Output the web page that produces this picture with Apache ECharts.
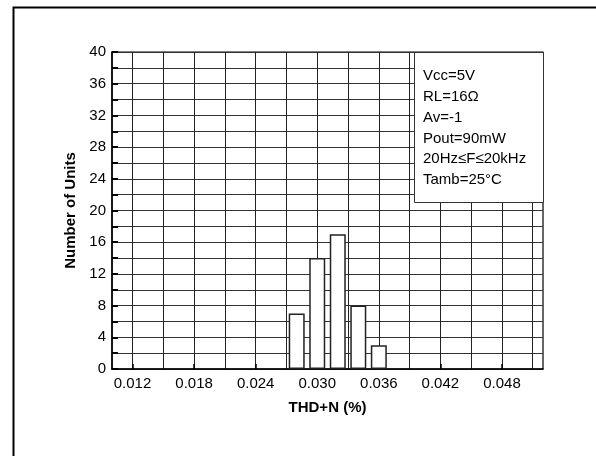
<!DOCTYPE html>
<html>
<head>
  <meta charset="UTF-8">
  <script src="https://cdn.jsdelivr.net/npm/echarts@6/dist/echarts.min.js"></script>
  <style>
    html, body { margin: 0; padding: 0; background: #fff; }
    #main { width: 596px; height: 456px; }
  </style>
</head>
<body>
  <div id="main"></div>
  <script>
    // histogram bins (THD+N %) and counts
    var binCenters = [0.028, 0.030, 0.032, 0.034, 0.036];
    var unitCounts = [7, 14, 17, 8, 3];
    var xTickLabels = [0.012, 0.018, 0.024, 0.030, 0.036, 0.042, 0.048];
    var xGridValues = [0.012, 0.015, 0.018, 0.021, 0.024, 0.027, 0.030, 0.033, 0.036, 0.039, 0.042, 0.045, 0.048, 0.051];
    var yTickLabels = [0, 4, 8, 12, 16, 20, 24, 28, 32, 36, 40];
    var noteLines = ['Vcc=5V', 'RL=16\u03A9', 'Av=-1', 'Pout=90mW', '20Hz\u2264F\u226420kHz', 'Tamb=25\u00B0C'];

    var font = 'Arial, "Liberation Sans", sans-serif';
    var chart = echarts.init(document.getElementById('main'));

    var barData = binCenters.map(function (x, i) { return [x, unitCounts[i]]; });

    chart.setOption({
      animation: false,
      backgroundColor: '#fff',
      grid: {
        left: 112, right: 53, top: 52, bottom: 87,
        show: true, borderColor: '#000', borderWidth: 1.2
      },
      xAxis: [{
        type: 'value', min: 0.010, max: 0.052,
        axisLine: { lineStyle: { color: '#000', width: 1.5 } },
        axisTick: { show: false, customValues: xGridValues },
        splitLine: { show: true, lineStyle: { color: '#222', width: 1 } },
        axisLabel: {
          color: '#000', fontSize: 15, fontFamily: font, margin: 7,
          customValues: xTickLabels,
          formatter: function (v) { return v.toFixed(3); }
        },
        name: 'THD+N (%)', nameLocation: 'middle', nameGap: 31,
        nameTextStyle: { color: '#000', fontSize: 15, fontWeight: 'bold', fontFamily: font }
      }, {
        type: 'value', min: 0.010, max: 0.052, position: 'bottom',
        axisLine: { show: false },
        axisLabel: { show: false },
        splitLine: { show: false },
        axisTick: {
          show: true, inside: true, length: 5, customValues: xTickLabels,
          lineStyle: { color: '#000', width: 1.5 }
        }
      }],
      yAxis: {
        type: 'value', min: 0, max: 40, interval: 2,
        axisLine: { show: true, lineStyle: { color: '#000', width: 1.5 } },
        axisTick: { show: true, inside: true, length: 6, lineStyle: { color: '#000', width: 2 } },
        splitLine: { show: true, lineStyle: { color: '#333', width: 1 } },
        axisLabel: {
          color: '#000', fontSize: 15, fontFamily: font, margin: 6,
          formatter: function (v) { return yTickLabels.indexOf(v) >= 0 ? String(v) : ''; }
        },
        name: 'Number of Units', nameLocation: 'middle', nameGap: 34,
        nameTextStyle: { color: '#000', fontSize: 15, fontWeight: 'bold', fontFamily: font }
      },
      series: [{
        type: 'bar', xAxisIndex: 0, data: barData, barWidth: 16,
        itemStyle: { color: '#fff', borderColor: '#222', borderWidth: 1.5 }
      }],
      graphic: [{
        type: 'rect', left: 11, top: 5, z: 100,
        shape: { width: 620, height: 480 },
        style: { fill: 'none', stroke: '#000', lineWidth: 2 }
      }, {
        type: 'rect', left: 414, top: 52, z: 100,
        shape: { width: 129, height: 150 },
        style: { fill: '#fff', stroke: '#333', lineWidth: 1 }
      }, {
        type: 'text', left: 423, top: 66, z: 101,
        style: {
          text: noteLines.join('\n'), fill: '#000',
          font: '15px ' + font, lineHeight: 20.7
        }
      }]
    });
  </script>
</body>
</html>
